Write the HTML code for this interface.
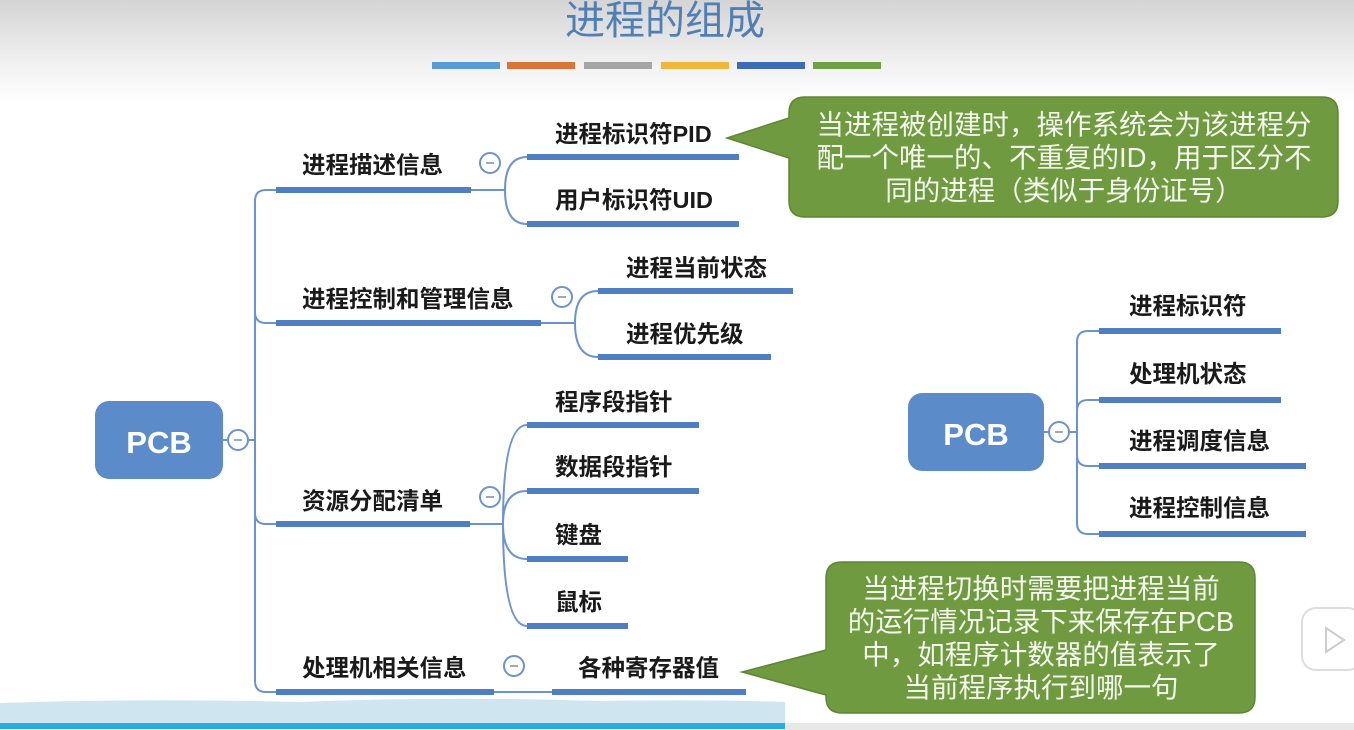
<!DOCTYPE html>
<html><head><meta charset="utf-8"><style>
html,body{margin:0;padding:0;width:1354px;height:730px;overflow:hidden;background:#fff}
svg{display:block}
text{font-family:"Liberation Sans","Noto Sans CJK SC",sans-serif}
.t{font-size:23.5px;fill:#1a1a1a;font-weight:bold}
.c{font-size:27.5px;fill:#f4f7ee;font-family:"Noto Sans CJK SC",sans-serif}
</style></head><body>
<svg width="1354" height="730" viewBox="0 0 1354 730">
<defs>
<linearGradient id="bg" x1="0" y1="0" x2="0" y2="1">
<stop offset="0" stop-color="#d4d4d4"/><stop offset="0.09" stop-color="#f2f2f2"/><stop offset="0.14" stop-color="#fff"/><stop offset="1" stop-color="#fff"/>
</linearGradient>
</defs>
<rect width="1354" height="730" fill="url(#bg)"/>
<text x="665" y="34" text-anchor="middle" font-size="40" fill="#4f7fb5" style="font-family:'Noto Sans CJK SC',sans-serif">进程的组成</text>
<g>
<rect x="432" y="62" width="68" height="7" fill="#5b9bd5"/>
<rect x="507" y="62" width="68" height="7" fill="#d9753b"/>
<rect x="584" y="62" width="68" height="7" fill="#a5a5a5"/>
<rect x="661" y="62" width="68" height="7" fill="#f0b73c"/>
<rect x="737" y="62" width="68" height="7" fill="#3e6bb5"/>
<rect x="813" y="62" width="68" height="7" fill="#70a044"/>
</g>
<g fill="none" stroke="#6d93cc" stroke-width="2">
<line x1="223" y1="440" x2="230" y2="440"/>
<line x1="246" y1="440" x2="255" y2="440"/>
<path d="M276 190 H266 Q255 190 255 201 V681 Q255 692 266 692 H276"/>
<path d="M255 312 Q255 323 266 323 H276"/>
<path d="M255 513 Q255 524 266 524 H276"/>
<line x1="470" y1="190" x2="505" y2="190"/>
<path d="M505 190 Q505 157 527 157"/><path d="M505 190 Q505 224 527 224"/>
<line x1="541" y1="323" x2="575" y2="323"/>
<path d="M575 323 Q575 291 598 291"/><path d="M575 323 Q575 357 598 357"/>
<line x1="470" y1="524" x2="503" y2="524"/>
<path d="M503 524 Q503 425 527 425"/><path d="M503 524 Q503 491 527 491"/>
<path d="M503 524 Q503 559 527 559"/><path d="M503 524 Q503 626 527 626"/>
<line x1="494" y1="692" x2="552" y2="692"/>
<line x1="1044" y1="432" x2="1051" y2="432"/>
<line x1="1067" y1="432" x2="1077" y2="432"/>
<path d="M1099 331 H1088 Q1077 331 1077 342 V523 Q1077 534 1088 534 H1099"/>
<path d="M1077 411 Q1077 400 1088 400 H1099"/>
<path d="M1077 455 Q1077 466 1088 466 H1099"/>
</g>
<g fill="#4f7fc0">
<rect x="276" y="187" width="195" height="6"/>
<rect x="527" y="154" width="212" height="6"/>
<rect x="527" y="221" width="212" height="6"/>
<rect x="276" y="320" width="265" height="6"/>
<rect x="598" y="288" width="195" height="6"/>
<rect x="598" y="354" width="173" height="6"/>
<rect x="276" y="521" width="194" height="6"/>
<rect x="527" y="422" width="172" height="6"/>
<rect x="527" y="488" width="172" height="6"/>
<rect x="527" y="556" width="101" height="6"/>
<rect x="527" y="623" width="101" height="6"/>
<rect x="276" y="689" width="218" height="6"/>
<rect x="552" y="689" width="194" height="6"/>
<rect x="1099" y="328" width="182" height="6"/>
<rect x="1099" y="397" width="182" height="6"/>
<rect x="1099" y="463" width="207" height="6"/>
<rect x="1099" y="531" width="207" height="6"/>
</g>
<g fill="#fff" stroke="#6d93cc" stroke-width="2">
<circle cx="238" cy="440" r="10"/><circle cx="490" cy="163" r="10"/><circle cx="562" cy="297" r="10"/>
<circle cx="490" cy="497" r="10"/><circle cx="514" cy="666" r="10"/><circle cx="1059" cy="432" r="10"/>
</g>
<g stroke="#9ab" stroke-width="2">
<line x1="234" y1="440" x2="242" y2="440"/><line x1="486" y1="163" x2="494" y2="163"/>
<line x1="558" y1="297" x2="566" y2="297"/><line x1="486" y1="497" x2="494" y2="497"/>
<line x1="510" y1="666" x2="518" y2="666"/><line x1="1055" y1="432" x2="1063" y2="432"/>
</g>
<rect x="95" y="401" width="128" height="78" rx="14" fill="#5b8cc9"/>
<text x="159" y="453" text-anchor="middle" font-size="31" font-weight="bold" fill="#fff">PCB</text>
<rect x="908" y="393" width="136" height="78" rx="14" fill="#5b8cc9"/>
<text x="976" y="445" text-anchor="middle" font-size="31" font-weight="bold" fill="#fff">PCB</text>
<g>
<text x="302" y="173" class="t">进程描述信息</text>
<text x="555" y="142" class="t">进程标识符PID</text>
<text x="555" y="208" class="t">用户标识符UID</text>
<text x="302" y="307" class="t">进程控制和管理信息</text>
<text x="626" y="276" class="t">进程当前状态</text>
<text x="626" y="342" class="t">进程优先级</text>
<text x="302" y="509" class="t">资源分配清单</text>
<text x="555" y="410" class="t">程序段指针</text>
<text x="555" y="475" class="t">数据段指针</text>
<text x="555" y="543" class="t">键盘</text>
<text x="555" y="610" class="t">鼠标</text>
<text x="302" y="676" class="t">处理机相关信息</text>
<text x="578" y="676" class="t">各种寄存器值</text>
<text x="1129" y="314" class="t">进程标识符</text>
<text x="1129" y="382" class="t">处理机状态</text>
<text x="1129" y="449" class="t">进程调度信息</text>
<text x="1129" y="516" class="t">进程控制信息</text>
</g>
<path d="M805 97 H1322 Q1338 97 1338 113 V201 Q1338 217 1322 217 H805 Q789 217 789 201 V158 L727 138 L789 118 V113 Q789 97 805 97 Z" fill="#6f9a40" stroke="#5d8534" stroke-width="1.5"/>
<g class="c" text-anchor="middle">
<text x="1064" y="134">当进程被创建时，操作系统会为该进程分</text>
<text x="1064" y="167">配一个唯一的、不重复的ID，用于区分不</text>
<text x="1064" y="200">同的进程（类似于身份证号）</text>
</g>
<path d="M842 562 H1239 Q1255 562 1255 578 V697 Q1255 713 1239 713 H842 Q826 713 826 697 V695 L742 672 L826 650 V578 Q826 562 842 562 Z" fill="#6f9a40" stroke="#5d8534" stroke-width="1.5"/>
<g class="c" text-anchor="middle">
<text x="1041" y="598">当进程切换时需要把进程当前</text>
<text x="1041" y="631">的运行情况记录下来保存在PCB</text>
<text x="1041" y="664">中，如程序计数器的值表示了</text>
<text x="1041" y="697">当前程序执行到哪一句</text>
</g>
<path d="M0 703 Q150 698 300 702 Q450 696 600 701 Q700 699 785 702 V723 H0 Z" fill="#cfe6f1"/>
<rect x="0" y="723" width="785" height="6" fill="#29abe2"/>
<rect x="785" y="723" width="569" height="7" fill="#e8e8e8"/>
<rect x="1302" y="608" width="60" height="62" rx="14" fill="#fff" stroke="#ddd" stroke-width="2"/>
<path d="M1326 628 L1344 640 L1326 652 Z" fill="none" stroke="#ccc" stroke-width="2"/>
</svg>
</body></html>
